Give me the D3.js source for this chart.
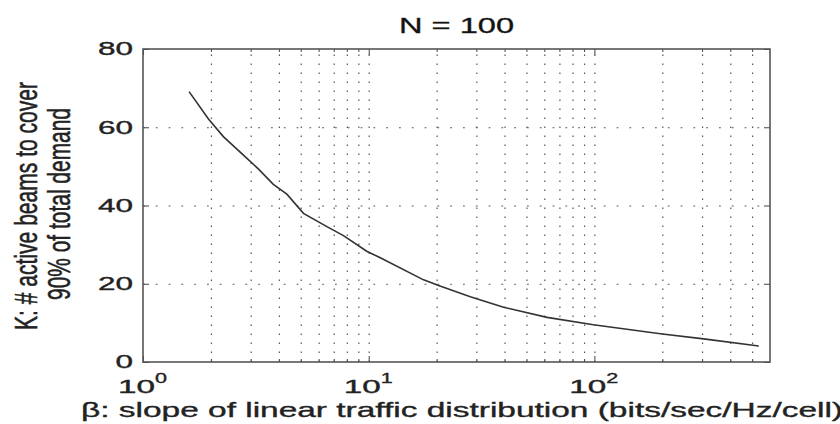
<!DOCTYPE html>
<html>
<head>
<meta charset="utf-8">
<script src="https://cdn.jsdelivr.net/npm/d3@7"></script>
<style>
	body { margin: 0; background: #fff; }
	svg { display: block; font-family: "Liberation Sans", Arial, sans-serif; }
	svg text { stroke: #222; stroke-width: 0.35; }
</style>
</head>
<body>
<div id="container"></div>
<script>
// beta (bits/sec/Hz/cell) and K
const beta = [1.6, 1.95, 2.27, 2.88, 3.25, 3.78, 4.34, 5.14, 6.53, 7.73, 9.8, 11.2, 17.5, 20.7, 28.2, 39.6, 61.7, 99, 196, 305, 535];
const kBeams = [69.1, 62.1, 57.6, 52.1, 49.3, 45.4, 42.9, 38.0, 34.6, 32.3, 28.3, 26.7, 21.0, 19.4, 16.7, 14.0, 11.4, 9.5, 7.2, 5.9, 4.1];

const xMajor = [1, 10, 100];
const xExp = ["0", "1", "2"];
const xMinor = [2, 3, 4, 5, 6, 7, 8, 9, 20, 30, 40, 50, 60, 70, 80, 90, 200, 300, 400, 500];
const yTicks = [0, 20, 40, 60, 80];
const yGrid = [20, 40, 60];

const titleText = "N = 100";
const xLabel = "\u03b2: slope of linear traffic distribution (bits/sec/Hz/cell)";
const yLabel1 = "K: # active beams to cover";
const yLabel2 = "90% of total demand";

drawChart();

function drawChart() {
	const width = 840;
	const height = 424;
	const margin = { top: 49, right: 70, bottom: 62, left: 143 };
	const innerW = width - margin.left - margin.right;
	const innerH = height - margin.top - margin.bottom;

	const svg = d3
		.select("#container")
		.append("svg")
		.attr("width", width)
		.attr("height", height);

	const xScale = d3
		.scaleLog()
		.domain([1, 600])
		.range([margin.left, width - margin.right]);

	const yScale = d3
		.scaleLinear()
		.domain([0, 80])
		.range([height - margin.bottom, margin.top]);

	// dotted grid
	const vGrid = svg
		.append("g")
		.attr("class", "grid")
		.attr("transform", `translate(0, ${height - margin.bottom})`)
		.call(d3.axisBottom(xScale).tickValues(xMinor.concat([10, 100])).tickSize(-innerH).tickFormat(""));
	vGrid.select(".domain").remove();
	vGrid.selectAll("line")
		.attr("stroke", "#555")
		.attr("stroke-width", 1.2)
		.attr("stroke-dasharray", "1.4,7.6");

	const hGrid = svg
		.append("g")
		.attr("class", "grid")
		.attr("transform", `translate(${margin.left}, 0)`)
		.call(d3.axisLeft(yScale).tickValues(yGrid).tickSize(-innerW).tickFormat(""));
	hGrid.select(".domain").remove();
	hGrid.selectAll("line")
		.attr("stroke", "#555")
		.attr("stroke-width", 1.2)
		.attr("stroke-dasharray", "1.8,11");

	// inward ticks on all four sides
	const tickAxes = [
		{ axis: d3.axisBottom(xScale).tickValues(xMajor).tickSize(-6), t: `translate(0, ${height - margin.bottom})` },
		{ axis: d3.axisBottom(xScale).tickValues(xMinor).tickSize(-3), t: `translate(0, ${height - margin.bottom})` },
		{ axis: d3.axisTop(xScale).tickValues(xMajor).tickSize(-6), t: `translate(0, ${margin.top})` },
		{ axis: d3.axisTop(xScale).tickValues(xMinor).tickSize(-3), t: `translate(0, ${margin.top})` },
		{ axis: d3.axisRight(yScale).tickValues(yTicks).tickSize(-6), t: `translate(${width - margin.right}, 0)` },
	];
	tickAxes.forEach((a) => {
		const g = svg.append("g").attr("transform", a.t).call(a.axis.tickFormat(""));
		g.select(".domain").remove();
		g.selectAll("line").attr("stroke", "#444");
	});

	// y axis with labels
	const yAxisG = svg
		.append("g")
		.attr("class", "y-axis")
		.attr("transform", `translate(${margin.left}, 0)`)
		.call(d3.axisLeft(yScale).tickValues(yTicks).tickSize(-6).tickPadding(10));
	yAxisG.select(".domain").remove();
	yAxisG.selectAll("line").attr("stroke", "#444");
	yAxisG.selectAll("text")
		.attr("font-family", "Liberation Sans, Arial, sans-serif")
		.attr("font-size", 18)
		.attr("fill", "#222")
		.attr("textLength", (d) => String(d).length * 17.5)
		.attr("lengthAdjust", "spacingAndGlyphs");

	// x axis labels 10^n
	const xLab = svg
		.append("g")
		.attr("class", "x-labels")
		.selectAll("text")
		.data(xMajor)
		.enter()
		.append("text")
		.attr("x", (d) => xScale(d) - 25)
		.attr("y", 393)
		.attr("fill", "#222")
		.attr("font-size", 18);
	xLab.append("tspan")
		.text("10")
		.attr("textLength", 37)
		.attr("lengthAdjust", "spacingAndGlyphs");
	xLab.append("tspan")
		.text((d, i) => xExp[i])
		.attr("dy", -10)
		.attr("font-size", 14)
		.attr("textLength", 12)
		.attr("lengthAdjust", "spacingAndGlyphs");

	// frame
	svg.append("rect")
		.attr("x", margin.left)
		.attr("y", margin.top)
		.attr("width", innerW)
		.attr("height", innerH)
		.attr("fill", "none")
		.attr("stroke", "#555")
		.attr("stroke-width", 1.6);

	// curve
	const lineGenerator = d3
		.line()
		.x((d, i) => xScale(beta[i]))
		.y((d) => yScale(d));
	svg.append("path")
		.attr("d", lineGenerator(kBeams))
		.attr("fill", "none")
		.attr("stroke", "#333")
		.attr("stroke-width", 1.6);

	// title
	svg.append("text")
		.attr("x", (margin.left + width - margin.right) / 2)
		.attr("y", 33)
		.attr("text-anchor", "middle")
		.attr("font-size", 22)
		.attr("fill", "#111")
		.attr("textLength", 115)
		.attr("lengthAdjust", "spacingAndGlyphs")
		.text(titleText);

	// x label
	svg.append("text")
		.attr("x", 81)
		.attr("y", 417)
		.attr("font-size", 21)
		.attr("fill", "#222")
		.attr("textLength", 762)
		.attr("lengthAdjust", "spacingAndGlyphs")
		.text(xLabel);

	// y label, two lines
	[
		{ s: yLabel1, x: 37, y: 206, len: 248 },
		{ s: yLabel2, x: 70, y: 204, len: 192 },
	].forEach((l) => {
		svg.append("text")
			.attr("transform", `translate(${l.x}, ${l.y}) scale(1.6, 1) rotate(-90)`)
			.attr("text-anchor", "middle")
			.attr("font-size", 20)
			.attr("fill", "#222")
			.attr("textLength", l.len)
			.attr("lengthAdjust", "spacingAndGlyphs")
			.text(l.s);
	});
}
</script>
</body>
</html>
